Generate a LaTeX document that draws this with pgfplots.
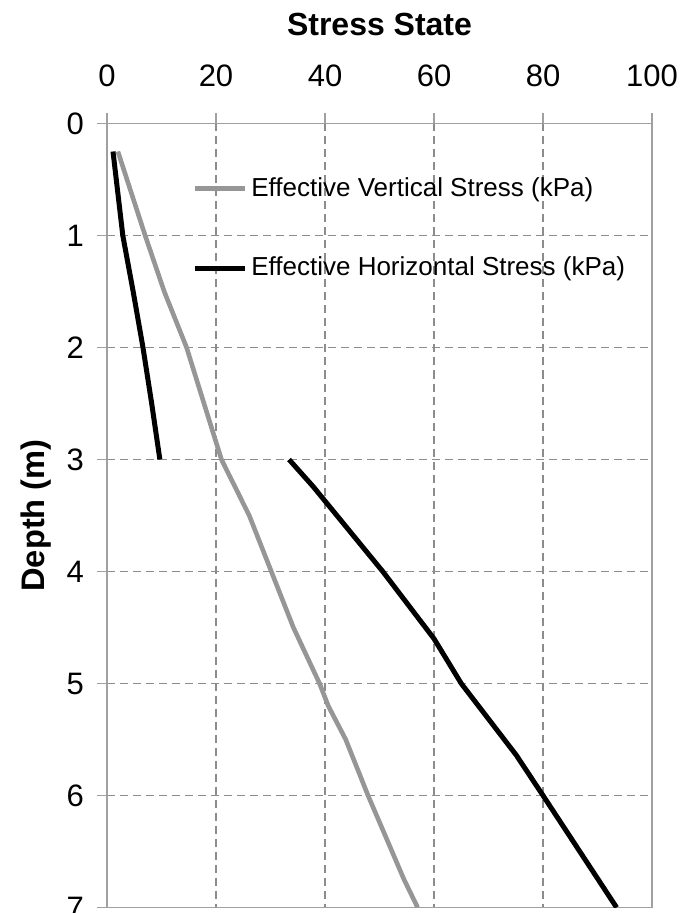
\documentclass[border=0pt]{standalone}
\usepackage{fontspec}
\setmainfont{Liberation Sans}
\usepackage{pgfplots}
\pgfplotsset{compat=1.18}
\definecolor{vgray}{RGB}{150,150,150}
\definecolor{axgray}{RGB}{160,160,160}
\definecolor{gridgray}{RGB}{140,140,140}
\begin{document}
\begin{tikzpicture}
\begin{axis}[
  scale only axis,
  width=272.5pt, height=392pt,
  xmin=0, xmax=100, ymin=0, ymax=7,
  y dir=reverse,
  xtick={0,20,40,60,80,100},
  ytick={0,1,2,3,4,5,6,7},
  xtick pos=right, xticklabel pos=right,
  ytick pos=left,
  tick align=outside,
  major tick length=5pt,
  axis line style={axgray, line width=0.8pt},
  every tick/.style={axgray, line width=0.8pt},
  grid=major,
  major grid style={gridgray, line width=0.6pt, dash pattern=on 4pt off 2.5pt},
  /pgf/number format/assume math mode=true,
  xticklabel={\fontsize{15.5}{18}\selectfont\pgfmathprintnumber{\tick}},
  yticklabel={\fontsize{15.5}{18}\selectfont\pgfmathprintnumber{\tick}},
  xticklabel shift=10pt,
  yticklabel shift=3pt,
  title={\bfseries Stress State},
  title style={font=\fontsize{16}{19}\selectfont, at={(axis description cs:0.5,1)}, anchor=base, yshift=38pt},
  ylabel={\bfseries Depth (m)},
  ylabel style={font=\fontsize{16.3}{19}\selectfont, at={(axis description cs:0,0.5)}, anchor=base, yshift=31pt},
  legend style={draw=none, fill=none, at={(axis description cs:0.1558,0.937)}, anchor=north west,
    font=\fontsize{13}{15}\selectfont, row sep=25pt, inner sep=0pt},
  legend cell align=left,
  legend image code/.code={\draw[#1] (0pt,0pt) -- (25pt,0pt);},
]
\addplot[vgray, line width=2.3pt] coordinates {
(2.0,0.25) (7.0,1.0) (10.5,1.5) (14.6,2.0) (21.0,3.0) (26.1,3.5) (34.2,4.5)
(39.0,5.0) (40.6,5.2) (43.8,5.5) (47.9,6.0) (54.5,6.75) (57.0,7.0)};
\addlegendentry{Effective Vertical Stress (kPa)}
\addplot[black, line width=2.5pt] coordinates {
(1.1,0.25) (1.7,0.5) (2.9,1.0) (4.8,1.5) (6.6,2.0) (8.2,2.5) (9.7,3.0)};
\addlegendentry{Effective Horizontal Stress (kPa)}
\addplot[black, line width=2.5pt, forget plot] coordinates {
(33.4,3.0) (37.8,3.24) (50.6,4.0) (60.0,4.6) (65.0,5.0) (75.1,5.64) (80.0,6.0) (93.5,7.0)};
\end{axis}
\pgfresetboundingbox
\path (-53.5pt,-2.75pt) rectangle (293.5pt,453.75pt);
\end{tikzpicture}
\end{document}
